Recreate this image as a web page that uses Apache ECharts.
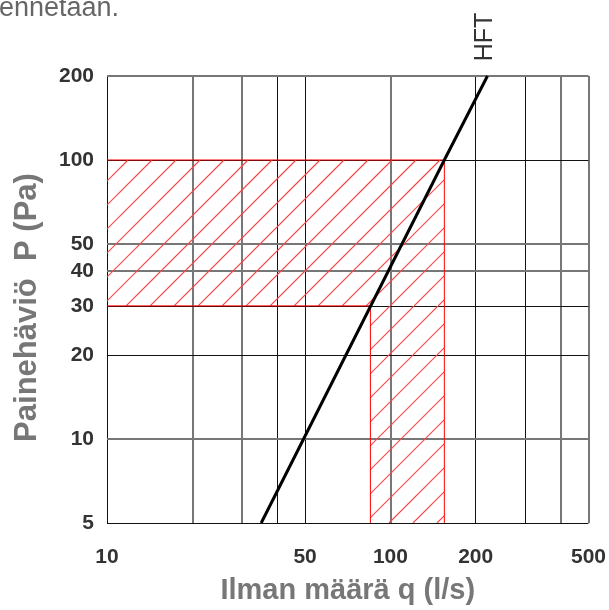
<!DOCTYPE html>
<html>
<head>
<meta charset="utf-8">
<script src="https://cdn.jsdelivr.net/npm/echarts@6/dist/echarts.min.js"></script>
<style>
  html, body { margin: 0; padding: 0; background: #fff; }
  #chart { width: 609px; height: 610px; }
</style>
</head>
<body>
<div id="chart"></div>
<script>
// axis range and labelled values
const qRange = [10, 500]
const pRange = [5, 200]
const qTicks = [10, 50, 100, 200, 500]
const pTicks = [5, 10, 20, 30, 40, 50, 100, 200]
// grid lines drawn on the paper
const qGrid = [10, 20, 30, 40, 50, 100, 200, 300, 400, 500]
const pGrid = [5, 10, 20, 30, 40, 50, 100, 200]
const qGridGray = [20, 30, 100, 400, 500]
const pGridGray = [10, 40, 50, 200]
// HFT curve
const hftQ = [35, 155, 220]
const hftP = [5, 100, 200]
// hatched working zone: q from 85 to 155, P from 30 to 100
const zoneQ = [85, 155]
const zoneP = [30, 100]

const FONT = 'Arial, "Liberation Sans", sans-serif'
const GRAY = '#777'
const BLACK = '#111'
const HATCH = '#ff4545'
const HATCH_STEP = 24

function gridStyle(isGray) {
  return isGray ? { color: GRAY, width: 2, type: 'solid' } : { color: BLACK, width: 1, type: 'solid' }
}

const gridLines = []
qGrid.forEach(v => gridLines.push({ xAxis: v, lineStyle: gridStyle(qGridGray.includes(v)) }))
pGrid.forEach(v => gridLines.push({ yAxis: v, lineStyle: gridStyle(pGridGray.includes(v)) }))

// the two hatched rectangles [q0, p0, q1, p1]
const zoneRects = [
  [qRange[0], zoneP[0], zoneQ[1], zoneP[1]],
  [zoneQ[0], pRange[0], zoneQ[1], zoneP[0]]
]

function renderHatch(params, api) {
  const a = api.coord([api.value(0), api.value(1)])
  const b = api.coord([api.value(2), api.value(3)])
  const x0 = Math.min(a[0], b[0]), x1 = Math.max(a[0], b[0])
  const y0 = Math.min(a[1], b[1]), y1 = Math.max(a[1], b[1])
  const children = []
  // lines x + y = c, rising to the right
  for (let c = Math.ceil((x0 + y0) / HATCH_STEP) * HATCH_STEP; c <= x1 + y1; c += HATCH_STEP) {
    children.push({
      type: 'line',
      silent: true,
      shape: { x1: c - y1, y1: y1, x2: c - y0, y2: y0 },
      style: { stroke: HATCH, fill: null, lineWidth: 1.2, opacity: 1 }
    })
  }
  return {
    type: 'group',
    clipPath: { type: 'rect', shape: { x: x0, y: y0, width: x1 - x0, height: y1 - y0 } },
    children: children
  }
}

const chart = echarts.init(document.getElementById('chart'))

chart.setOption({
  animation: false,
  backgroundColor: '#fff',
  grid: { left: 107, top: 76, width: 482, height: 454 },
  graphic: [
    {
      type: 'text', x: -1, y: 9,
      style: { text: 'ennetaan.', font: '27px ' + FONT, fill: '#666', verticalAlign: 'middle' }
    },
    {
      type: 'text', x: 485, y: 37, rotation: Math.PI / 2,
      style: { text: 'HFT', font: '25px ' + FONT, fill: '#333', align: 'center', verticalAlign: 'middle' }
    }
  ],
  xAxis: {
    type: 'log',
    logBase: 10,
    min: qRange[0],
    max: qRange[1],
    name: 'Ilman määrä q (l/s)',
    nameLocation: 'middle',
    nameGap: 53,
    nameTextStyle: { color: GRAY, fontSize: 29, fontWeight: 'bold', fontFamily: FONT },
    axisLine: { show: false },
    axisTick: { show: false },
    splitLine: { show: false },
    axisLabel: {
      customValues: qTicks,
      margin: 24,
      color: '#333',
      fontSize: 21,
      fontWeight: 'bold',
      fontFamily: FONT
    }
  },
  yAxis: {
    type: 'log',
    logBase: 10,
    min: pRange[0],
    max: pRange[1],
    name: 'Painehäviö  P (Pa)',
    nameLocation: 'middle',
    nameGap: 64,
    nameTextStyle: { color: GRAY, fontSize: 31, fontWeight: 'bold', fontFamily: FONT, padding: [0, 16, 0, 0] },
    axisLine: { show: false },
    axisTick: { show: false },
    splitLine: { show: false },
    axisLabel: {
      customValues: pTicks,
      margin: 13,
      color: '#333',
      fontSize: 21,
      fontWeight: 'bold',
      fontFamily: FONT
    }
  },
  series: [
    {
      name: 'grid',
      type: 'line',
      data: [],
      clip: false,
      silent: true,
      z: 1,
      markLine: {
        z: 1,
        silent: true,
        symbol: 'none',
        label: { show: false },
        emphasis: { disabled: true },
        data: gridLines
      }
    },
    {
      name: 'zone',
      type: 'custom',
      z: 2,
      silent: true,
      clip: false,
      itemStyle: { color: HATCH },
      renderItem: renderHatch,
      data: zoneRects
    },
    {
      name: 'zone top',
      type: 'line',
      z: 3,
      symbol: 'none',
      silent: true,
      clip: false,
      lineStyle: { color: '#f00', width: 1 },
      data: [[qRange[0], zoneP[1]], [zoneQ[1], zoneP[1]], [zoneQ[1], pRange[0]]]
    },
    {
      name: 'zone bottom',
      type: 'line',
      z: 3,
      symbol: 'none',
      silent: true,
      clip: false,
      lineStyle: { color: '#f00', width: 1 },
      data: [[qRange[0], zoneP[0]], [zoneQ[0], zoneP[0]], [zoneQ[0], pRange[0]]]
    },
    {
      name: 'HFT',
      type: 'line',
      z: 5,
      symbol: 'none',
      silent: true,
      clip: false,
      lineStyle: { color: '#000', width: 3 },
      data: hftQ.map((q, i) => [q, hftP[i]])
    }
  ]
})
</script>
</body>
</html>
